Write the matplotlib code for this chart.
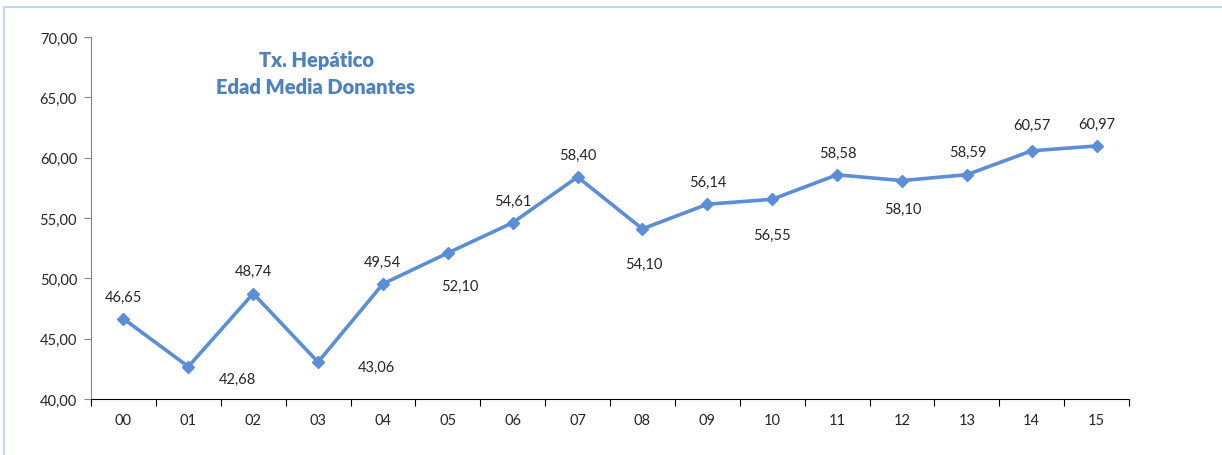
import matplotlib.pyplot as plt
from matplotlib.patches import Rectangle

years = ['00', '01', '02', '03', '04', '05', '06', '07', '08', '09', '10', '11', '12', '13', '14', '15']
edad_media = [46.65, 42.68, 48.74, 43.06, 49.54, 52.10, 54.61, 58.40, 54.10, 56.14,
              56.55, 58.58, 58.10, 58.59, 60.57, 60.97]
y_ticks = [40, 45, 50, 55, 60, 65, 70]

# desplazamiento de cada etiqueta en pixeles (dx, dy)
label_offsets = [(0, 22), (49, -12), (0, 23), (58, -5), (0, 22), (12, -33), (0, 22), (0, 22),
                 (1, -35), (0, 22), (0, -36), (1, 22), (1, -28), (1, 23), (0, 26), (0, 22)]

plt.rcParams['font.family'] = ['Lato', 'DejaVu Sans']
fig = plt.figure(figsize=(12.22, 4.56), dpi=100)
ax = fig.add_axes([91/1222, 56/456, 1038/1222, 362/456])

line_color = '#5B8ED6'
x = list(range(len(years)))
ax.plot(x, edad_media, color=line_color, linewidth=2.6, marker='D', markersize=6.5, zorder=3)

pt = 72 / 100
for i, v in enumerate(edad_media):
    dx, dy = label_offsets[i]
    ax.annotate(f'{v:.2f}'.replace('.', ','), (i, v), xytext=(dx*pt, dy*pt), textcoords='offset points',
                ha='center', va='center', fontsize=10.5, color='#262626')

ax.set_xlim(-0.5, len(years) - 0.5)
ax.set_ylim(40, 70)
ax.set_yticks(y_ticks)
ax.set_yticklabels([f'{t:.2f}'.replace('.', ',') for t in y_ticks])
ax.set_xticks([i - 0.5 for i in range(len(years) + 1)])
ax.set_xticklabels([])
ax.set_xticks(x, minor=True)
ax.set_xticklabels(years, minor=True)
ax.tick_params(axis='x', which='major', length=5, color='black', direction='out')
ax.tick_params(axis='x', which='minor', length=0, pad=10, labelsize=10.5, labelcolor='#262626')
ax.tick_params(axis='y', length=5, color='#868686', labelsize=10.5, labelcolor='#262626', pad=5)

for s in ['top', 'right']:
    ax.spines[s].set_visible(False)
ax.spines['left'].set_color('#868686')
ax.spines['bottom'].set_color('black')

ax.text(316/1222, 1 - 61/456, 'Tx. Hepático', transform=fig.transFigure, ha='center', va='center',
        fontsize=14.5, fontweight='heavy', color='#4F81BD')
ax.text(316/1222, 1 - 87/456, 'Edad Media Donantes', transform=fig.transFigure, ha='center', va='center',
        fontsize=14.5, fontweight='heavy', color='#4F81BD')

fig.patches.append(Rectangle((4/1222, -0.1), 1.2, (448/456) + 0.1, transform=fig.transFigure,
                             fill=False, edgecolor='#B4CFF0', linewidth=1.2))

fig.savefig('out.png', dpi=100)
